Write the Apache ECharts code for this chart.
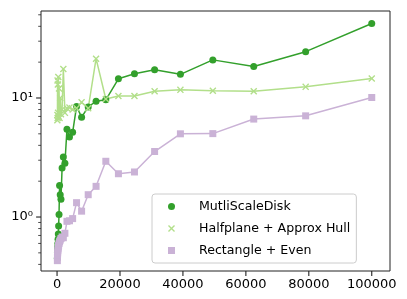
<!DOCTYPE html>
<html>
<head>
<meta charset="utf-8">
<script src="https://cdn.jsdelivr.net/npm/echarts@6/dist/echarts.min.js"></script>
<style>html,body{margin:0;padding:0;background:#fff}#c{width:407px;height:299px}</style>
</head>
<body>
<div id="c"></div>
<script>
// ---- data ----
var sizes = [100,125,160,200,250,320,400,500,630,800,1000,1250,1600,2000,2500,3150,3950,4950,6200,7800,9900,12400,15500,19500,24600,31000,39200,49500,62500,79000,100000];
var multiScaleDisk = [0.45,0.5,0.53,0.56,0.6,0.65,0.72,0.84,1.05,1.84,1.54,1.41,2.58,3.19,2.83,5.46,4.7,5.15,8.5,6.9,8.4,9.4,9.65,14.5,16.0,17.3,15.8,20.9,18.4,24.5,42.2];
var halfplaneHull = [6.5,7.2,14.0,6.8,13.0,7.5,15.0,7.0,12.0,6.8,10.0,7.3,8.0,17.5,7.5,8.2,8.3,8.0,8.2,9.2,8.2,21.4,9.8,10.4,10.4,11.4,11.7,11.5,11.4,12.4,14.6];
var rectangleEven = [0.43,0.46,0.48,0.5,0.52,0.54,0.56,0.58,0.6,0.62,0.64,0.66,0.68,0.67,0.73,0.92,0.93,0.97,1.32,1.12,1.54,1.81,2.94,2.31,2.39,3.55,5.0,5.02,6.65,7.08,10.1];
var seriesNames = ['MutliScaleDisk','Halfplane + Approx Hull','Rectangle + Even'];
var xTickValues = [0,20000,40000,60000,80000,100000];
var yMajorTicks = [1,10];
var yMinorTicks = [0.4,0.5,0.6,0.7,0.8,0.9,2,3,4,5,6,7,8,9,20,30,40,50];

var xMin = -5100, xMax = 105800, yMin = 0.352, yMax = 53.8;
var colors = ['#33a02c','#b2df8a','#cab2d6'];
var font = 'DejaVu Sans';
var xPath = 'path://M0,1.4L1.4,0L5,3.6L8.6,0L10,1.4L6.4,5L10,8.6L8.6,10L5,6.4L1.4,10L0,8.6L3.6,5Z';

function pairs(ys){ return sizes.map(function(x,i){ return [x, ys[i]]; }); }

var tickData = [];
xTickValues.forEach(function(v){ tickData.push([v, yMin, 0]); });
yMajorTicks.forEach(function(v){ tickData.push([xMin, v, 1]); });
yMinorTicks.forEach(function(v){ tickData.push([xMin, v, 2]); });

function lineSeries(name, ys, color, symbol, size){
  return {
    name: name, type: 'line', data: pairs(ys),
    symbol: symbol, symbolSize: size, showSymbol: true,
    lineStyle: {color: color, width: 1.5},
    itemStyle: {color: color},
    emphasis: {disabled: true}, silent: true
  };
}

var chart = echarts.init(document.getElementById('c'), null, {renderer: 'canvas'});
chart.setOption({
  animation: false,
  grid: {left: 41, right: 17, top: 11, bottom: 28, show: true, borderColor: '#222', borderWidth: 1, backgroundColor: 'transparent'},
  xAxis: {
    type: 'value', min: xMin, max: xMax, splitNumber: 5,
    axisLine: {show: false}, axisTick: {show: false}, splitLine: {show: false},
    axisLabel: {fontFamily: font, fontSize: 13, color: '#000', margin: 7,
      formatter: function(v){ return (v % 20000 === 0) ? String(v) : ''; }}
  },
  yAxis: {
    type: 'log', logBase: 10, min: yMin, max: yMax,
    axisLine: {show: false}, axisTick: {show: false}, splitLine: {show: false}, minorTick: {show: false},
    axisLabel: {fontFamily: font, fontSize: 13, color: '#000', margin: 8,
      formatter: function(v){
        if (Math.abs(v - 1) < 1e-9) return '10\u2070';
        if (Math.abs(v - 10) < 1e-9) return '10\u00b9';
        return '';
      }}
  },
  legend: {
    orient: 'vertical', left: 152, top: 194,
    padding: [5, 6, 5, 16], itemGap: 7, itemWidth: 7, itemHeight: 7,
    backgroundColor: 'rgba(255,255,255,0.8)', borderColor: '#cccccc', borderWidth: 1, borderRadius: 3,
    textStyle: {fontFamily: font, fontSize: 12.6, color: '#000', lineHeight: 15, padding: [0,0,0,19]},
    data: [
      {name: seriesNames[0], icon: 'circle'},
      {name: seriesNames[1], icon: xPath},
      {name: seriesNames[2], icon: 'rect'}
    ]
  },
  series: [
    lineSeries(seriesNames[0], multiScaleDisk, colors[0], 'circle', 7),
    lineSeries(seriesNames[1], halfplaneHull, colors[1], xPath, 7),
    lineSeries(seriesNames[2], rectangleEven, colors[2], 'rect', 7),
    {
      type: 'custom', name: 'ticks', silent: true, clip: false,
      data: tickData,
      renderItem: function(params, api){
        var p = api.coord([api.value(0), api.value(1)]);
        var k = api.value(2);
        var shape, w;
        if (k === 0) { shape = {x1: p[0], y1: p[1], x2: p[0], y2: p[1] + 4.9}; w = 1.1; }
        else if (k === 1) { shape = {x1: p[0], y1: p[1], x2: p[0] - 4.9, y2: p[1]}; w = 1.1; }
        else { shape = {x1: p[0], y1: p[1], x2: p[0] - 2.8, y2: p[1]}; w = 0.8; }
        return {type: 'line', shape: shape, style: {stroke: '#222', lineWidth: w}};
      }
    }
  ]
});
</script>
</body>
</html>
